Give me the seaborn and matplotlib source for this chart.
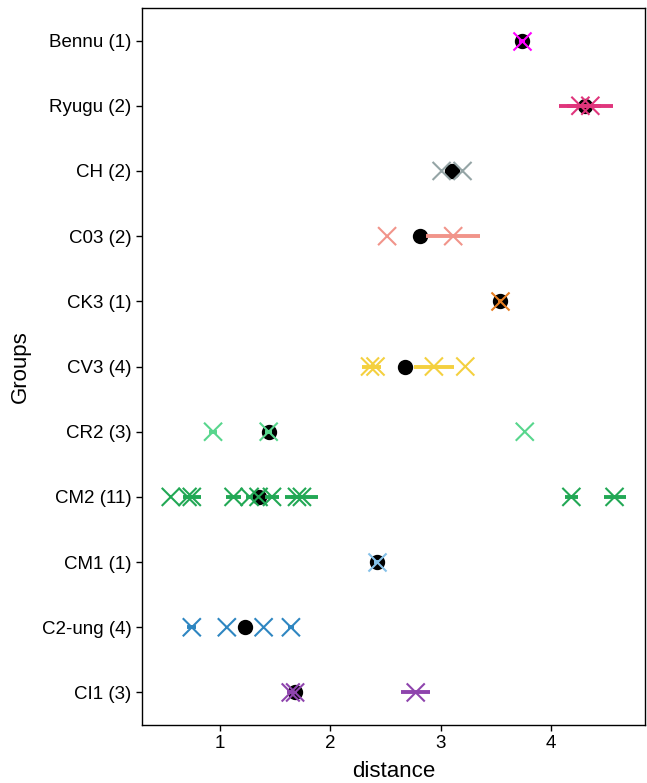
import numpy as np
import pandas as pd
import matplotlib
matplotlib.use("Agg")
import matplotlib.pyplot as plt
import seaborn as sns

groups = ["Bennu", "Ryugu", "CH", "C03", "CK3", "CV3", "CR2", "CM2", "CM1", "C2-ung", "CI1"]
colors = ["#FF00FF", "#E0357C", "#95A5A6", "#F1948A", "#E67E22", "#F4D03F",
          "#58D68D", "#22A855", "#85C1E9", "#2E86C1", "#8E44AD"]

bennu = [3.74];                    bennu_err = [0.03]
ryugu = [4.27, 4.36];              ryugu_err = [0.19, 0.21]
ch = [3.01, 3.20];                 ch_err = [0.0, 0.0]
c03 = [2.515, 3.115];              c03_err = [0.0, 0.245]
ck3 = [3.54];                      ck3_err = [0.02]
cv3 = [2.36, 2.41, 2.94, 3.225];   cv3_err = [0.07, 0.05, 0.18, 0.0]
cr2 = [0.935, 1.44, 3.765];        cr2_err = [0.04, 0.03, 0.0]
cm2 = [0.551, 0.703, 0.742, 1.121, 1.267, 1.348, 1.47, 1.697, 1.742, 4.188, 4.58]
cm2_err = [0.0, 0.03, 0.08, 0.07, 0.03, 0.0, 0.06, 0.05, 0.15, 0.06, 0.1]
cm1 = [2.42];                      cm1_err = [0.02]
c2ung = [0.742, 1.06, 1.394, 1.642]; c2ung_err = [0.04, 0.0, 0.0, 0.03]
ci1 = [1.64, 1.68, 2.775];         ci1_err = [0.03, 0.0, 0.13]

values = [bennu, ryugu, ch, c03, ck3, cv3, cr2, cm2, cm1, c2ung, ci1]
errors = [bennu_err, ryugu_err, ch_err, c03_err, ck3_err, cv3_err, cr2_err,
          cm2_err, cm1_err, c2ung_err, ci1_err]

labels = [f"{g} ({len(v)})" for g, v in zip(groups, values)]
rows = []
for lab, v, e in zip(labels, values, errors):
    for d, er in zip(v, e):
        rows.append({"Groups": lab, "distance": d, "err": er})
df = pd.DataFrame(rows)
palette = dict(zip(labels, colors))

sns.set_style("ticks")
plt.rcParams["font.family"] = ["Liberation Sans", "DejaVu Sans"]

fig = plt.figure(figsize=(6.47, 7.83), dpi=100)
ax = fig.add_axes([0.2195, 0.074, 0.778, 0.9158])

# median dots
sns.pointplot(data=df, x="distance", y="Groups", order=labels, estimator="median",
              errorbar=None, color="black", linestyle="none", marker="o",
              markersize=9, ax=ax, zorder=2)

# error bars
pos = {lab: i for i, lab in enumerate(labels)}
for lab in labels:
    sub = df[df["Groups"] == lab]
    ax.errorbar(sub["distance"], sub["Groups"].map(pos), xerr=sub["err"],
                fmt="none", ecolor=palette[lab], elinewidth=2.8, capsize=0, zorder=3)

# individual points
sns.stripplot(data=df, x="distance", y="Groups", order=labels, hue="Groups",
              hue_order=labels, palette=palette, jitter=False, marker="x",
              s=13, linewidth=1.5, legend=False, ax=ax, zorder=4)

ax.set_xlim(0.29, 4.86)
ax.set_ylim(len(labels) - 0.5, -0.5)
ax.set_xticks([1, 2, 3, 4])
ax.tick_params(axis="both", labelsize=13.5, length=4, width=1, colors="black")
ax.set_xlabel("distance", fontsize=16, labelpad=6, color="black")
ax.set_ylabel("Groups", fontsize=16, labelpad=8, color="black")
for s in ax.spines.values():
    s.set_color("black")
    s.set_linewidth(1)

fig.savefig("out.png", dpi=100)
